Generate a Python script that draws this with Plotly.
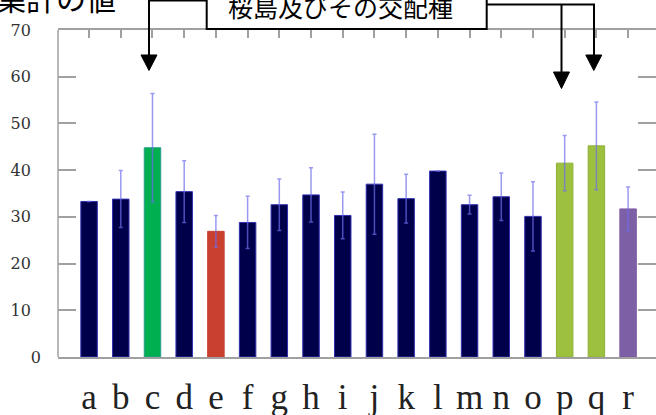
import plotly.graph_objects as go

# ---- data ----
categories = ["a", "b", "c", "d", "e", "f", "g", "h", "i",
              "j", "k", "l", "m", "n", "o", "p", "q", "r"]
values = [33.3, 33.8, 44.8, 35.4, 26.9, 28.8, 32.6, 34.7, 30.3,
          37.0, 33.9, 39.8, 32.6, 34.3, 30.1, 41.5, 45.2, 31.7]
errors = [0, 6.1, 11.6, 6.6, 3.4, 5.6, 5.5, 5.8, 5.0,
          10.7, 5.2, 0, 2.0, 5.1, 7.4, 5.9, 9.4, 4.7]
y_tick_values = [0, 10, 20, 30, 40, 50, 60, 70]
y_tick_labels = ["0", "10", "20", "30", "40", "50", "60", "70"]
title_text = "集計の値"
box_text = "桜島及びその交配種"

# ---- styles ----
NAVY = "#00004a"
bar_colors = [NAVY, NAVY, "#00b050", NAVY, "#c9402f", NAVY, NAVY, NAVY, NAVY,
              NAVY, NAVY, NAVY, NAVY, NAVY, NAVY, "#9dc13f", "#9dc13f", "#7d5fa6"]
line_colors = ["#3030b0", "#3030b0", "#2a9d8f", "#3030b0", "#c9402f", "#3030b0",
               "#3030b0", "#3030b0", "#3030b0", "#3030b0", "#3030b0", "#3030b0",
               "#3030b0", "#3030b0", "#3030b0", "#8fb03a", "#8fb03a", "#7d5fa6"]

W, H = 656, 415
L, R, T, B = 58, 0, 30, 58
PW, PH = W - L - R, H - T - B


def px_x(p):
    return (p - L) / PW


def px_y(p):
    return (H - B - p) / PH


FIG_SPACE = "\u2007"
tick_text = [t if t == "0" else t + FIG_SPACE for t in y_tick_labels]

fig = go.Figure()
fig.add_trace(go.Bar(
    x=list(range(len(categories))),
    y=values,
    width=0.52,
    marker=dict(color=bar_colors, line=dict(color=line_colors, width=1)),
    error_y=dict(type="data", array=errors, visible=True,
                 color="rgba(110,110,235,0.7)", thickness=1.5, width=2),
))

fig.update_layout(
    template="none",
    width=W, height=H,
    margin=dict(l=L, r=R, t=T, b=B, pad=0, autoexpand=False),
    paper_bgcolor="white", plot_bgcolor="white",
    showlegend=False,
    xaxis=dict(
        automargin=False,
        range=[-0.98, 17.88],
        tickmode="array",
        tickvals=list(range(len(categories))),
        ticktext=categories,
        ticks="inside", ticklen=8, tickwidth=1.5, tickcolor="#a0a0a0",
        showline=True, linecolor="#a0a0a0", linewidth=1.5,
        mirror="ticks",
        showgrid=False, zeroline=False,
        layer="below traces",
        tickfont=dict(family="Liberation Serif", size=35, color="#222"),
        ticklabelstandoff=8,
    ),
    yaxis=dict(
        automargin=False,
        range=[0, 70],
        tickmode="array",
        tickvals=y_tick_values,
        ticktext=tick_text,
        ticks="inside", ticklen=18, tickwidth=1.5, tickcolor="#a0a0a0",
        showline=False,
        mirror="ticks",
        showgrid=False, zeroline=False,
        layer="below traces",
        tickfont=dict(family="DejaVu Serif", size=16, color="#333"),
        ticklabelstandoff=16,
    ),
)

shapes = []
# left axis line
shapes.append(dict(type="line", xref="paper", yref="paper", x0=0, x1=0, y0=0, y1=1,
                   line=dict(color="#a0a0a0", width=1.5), layer="below"))
# callout box
shapes.append(dict(type="rect", xref="paper", yref="paper",
                   x0=px_x(206.7), x1=px_x(486.7), y0=px_y(29), y1=px_y(-10),
                   line=dict(color="black", width=2), fillcolor="white"))


def seg_path(points):
    return "M " + " L ".join(f"{px_x(a):.5f},{px_y(b):.5f}" for a, b in points)


blk = dict(color="black", width=2)
shapes.append(dict(type="path", xref="paper", yref="paper",
                   path=seg_path([(149, 56), (149, 0.5), (207, 0.5)]), line=blk))
shapes.append(dict(type="path", xref="paper", yref="paper",
                   path=seg_path([(486.7, 4.5), (594, 4.5), (594, 56)]), line=blk))
shapes.append(dict(type="path", xref="paper", yref="paper",
                   path=seg_path([(561.5, 4.5), (561.5, 73)]), line=blk))
for cx, base, tip in [(149, 55, 70.5), (561.5, 72, 88.5), (593.8, 55, 70.5)]:
    shapes.append(dict(type="path", xref="paper", yref="paper",
                       path=seg_path([(cx - 8, base), (cx + 8, base), (cx, tip)]) + " Z",
                       line=dict(color="black", width=1), fillcolor="black"))
fig.update_layout(shapes=shapes)

fig.add_annotation(text=title_text, xref="paper", yref="paper",
                   x=px_x(118), y=px_y(-3), xanchor="right", yanchor="middle",
                   showarrow=False,
                   font=dict(family="Noto Sans CJK JP", size=30, color="black"))
fig.add_annotation(text=box_text, xref="paper", yref="paper",
                   x=px_x(340), y=px_y(6), xanchor="center", yanchor="middle",
                   showarrow=False,
                   font=dict(family="Noto Sans CJK JP", size=25, color="black"))

fig.write_html("out.html",
               config={"displayModeBar": False},
               post_script="document.body.style.margin='0';document.body.style.overflow='hidden';")
